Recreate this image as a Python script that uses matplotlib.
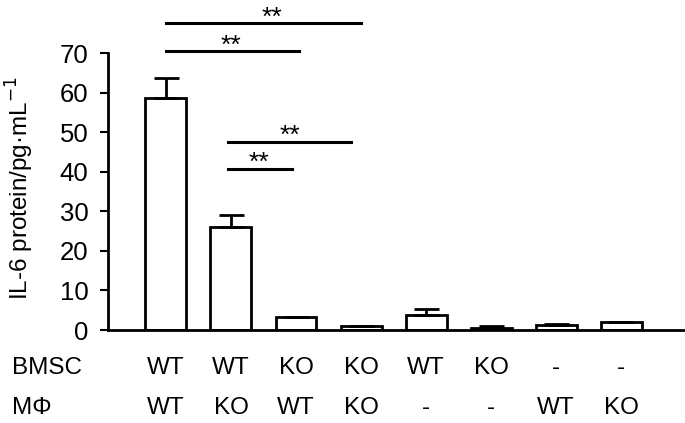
import matplotlib
matplotlib.use("Agg")
import matplotlib.pyplot as plt
from matplotlib.transforms import blended_transform_factory

plt.rcParams['font.family'] = ['Liberation Sans', 'DejaVu Sans']

bmsc = ["WT", "WT", "KO", "KO", "WT", "KO", "-", "-"]
mphi = ["WT", "KO", "WT", "KO", "-", "-", "WT", "KO"]
values = [58.7, 26.0, 3.2, 1.0, 3.8, 0.5, 1.2, 1.9]
errors = [5.0, 3.0, 0.0, 0.0, 1.4, 0.4, 0.4, 0.0]
yticks = [0, 10, 20, 30, 40, 50, 60, 70]
# significance brackets: (x_start, x_end, y, star_x)
sig = [(0.0, 3.0, 77.5, 1.63), (0.0, 2.05, 70.4, 1.0),
       (0.95, 2.85, 47.6, 1.9), (0.95, 1.94, 40.8, 1.43)]

fig = plt.figure(figsize=(6.85, 4.23), dpi=100)
ax = fig.add_axes([108/685, 1-330/423, 1-108/685, (330-53)/423])

x = list(range(len(values)))
ax.bar(x, values, width=0.63, color="white", edgecolor="black", linewidth=2, zorder=2)
ax.errorbar(x, values, yerr=[[0]*len(errors), errors], fmt="none", ecolor="black",
            elinewidth=2, capsize=9, capthick=2, zorder=3)

ax.set_xlim(-0.89, 7.98)
ax.set_ylim(0, 70)
ax.set_yticks(yticks)
ax.set_xticks([])
ax.tick_params(axis='y', direction='out', length=6, width=1.5, labelsize=18.5, pad=8)
for s in ['top', 'right']:
    ax.spines[s].set_visible(False)
ax.spines['left'].set_linewidth(2)
ax.spines['bottom'].set_linewidth(2)
ax.set_ylabel("IL-6 protein/pg·mL$^{-1}$", fontsize=17.5)
ax.yaxis.set_label_coords((36-108)/(685-108), (330-188)/(330-53))

for x0, x1, yy, sx in sig:
    ax.plot([x0, x1], [yy, yy], color="black", lw=2.2, clip_on=False)
    ax.text(sx, yy - 0.4, "**", ha="center", va="baseline", fontsize=19, clip_on=False)

tr = blended_transform_factory(ax.transData, fig.transFigure)
for i in x:
    ax.text(i, 1-368/423, bmsc[i], transform=tr, ha="center", va="center", fontsize=17.5)
    ax.text(i, 1-408/423, mphi[i], transform=tr, ha="center", va="center", fontsize=17.5)
fig.text(12/685, 1-368/423, "BMSC", ha="left", va="center", fontsize=17.5)
fig.text(12/685, 1-408/423, "MΦ", ha="left", va="center", fontsize=17.5)

fig.savefig("out.png", dpi=100)
